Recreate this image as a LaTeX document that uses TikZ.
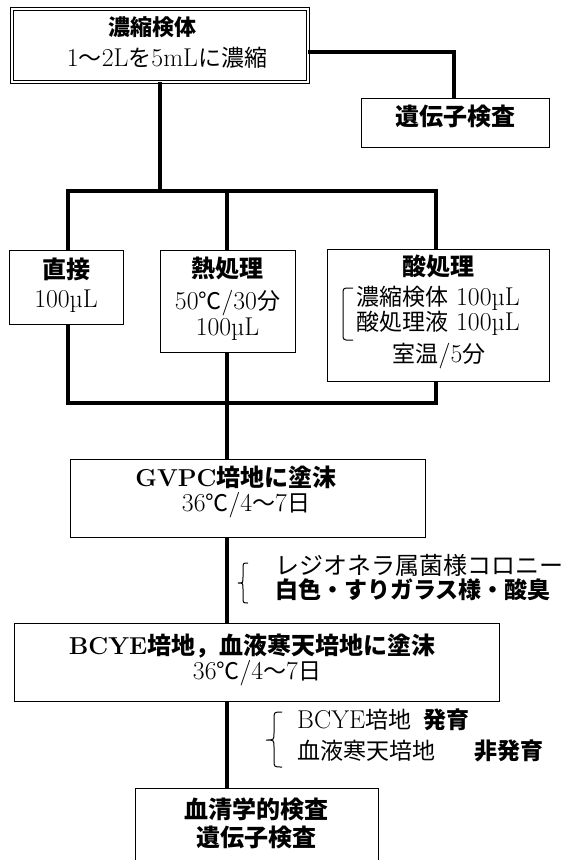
\documentclass[tikz,border=0pt]{standalone}
\usepackage{fontspec}
\setmainfont{Latin Modern Roman}[Scale=1.12, BoldFeatures={Scale=1.02}]
\newfontfamily\cjk{Noto Sans CJK JP}
\newcommand\J[1]{{\cjk #1}}
\tikzset{
  box/.style={draw, fill=white, line width=1.3pt, rectangle, inner sep=0pt, anchor=north west},
  topbox/.style={draw, fill=white, double, line width=0.8pt, double distance=1.6pt, rectangle, inner sep=0pt, anchor=north west},
  conn/.style={line width=4.2pt},
  brk/.style={line width=1pt},
  txt/.style={inner sep=0pt, text height=0.85em, text depth=0.1em, font=\fontsize{23}{28}\selectfont},
  hd/.style={inner sep=0pt, text height=0.85em, text depth=0.1em, font=\fontsize{24}{28}\selectfont\bfseries},
}
\begin{document}
\begin{tikzpicture}[x=1pt,y=-1pt]
\useasboundingbox[fill=white] (0,0) rectangle (571,860);
\clip (0,0) rectangle (571,860);
% junction coordinates
\coordinate (g1) at (454,52);
\coordinate (jT) at (160,191);
\coordinate (jL) at (68,191);
\coordinate (jM) at (227,191);
\coordinate (jR) at (436,191);
\coordinate (bL) at (68,403);
\coordinate (bM) at (227,403);
\coordinate (bR) at (436,403);
% boxes
\node[topbox, minimum width=296pt, minimum height=73pt] (top) at (11.5,8.5) {};
\node[box, minimum width=188pt, minimum height=49pt] (gene) at (361,98) {};
\node[box, minimum width=114pt, minimum height=74pt] (direct) at (9,250) {};
\node[box, minimum width=135pt, minimum height=102pt] (heat) at (160,250) {};
\node[box, minimum width=222pt, minimum height=132pt] (acid) at (327,249) {};
\node[box, minimum width=355pt, minimum height=78pt] (gvpc) at (70,459) {};
\node[box, minimum width=485pt, minimum height=78pt] (bcye) at (14,623) {};
\node[box, minimum width=243pt, minimum height=95pt] (final) at (135,788) {};
% connectors
\draw[conn] (top.east |- g1) -- (g1) -- (gene.north -| g1);
\draw[conn] (top.south -| jT) -- (jT);
\draw[conn] (direct.north -| jL) -- (jL) -- (jR) -- (acid.north -| jR);
\draw[conn] (jM) -- (heat.north -| jM);
\draw[conn] (direct.south -| bL) -- (bL) -- (bR) -- (acid.south -| bR);
\draw[conn] (heat.south -| bM) -- (bM) -- (gvpc.north -| bM);
\draw[conn] (gvpc.south -| bM) -- (bcye.north -| bM);
\draw[conn] (bcye.south -| bM) -- (final.north -| bM);
% texts
\node[hd, font=\fontsize{22}{26}\selectfont\bfseries] (topT) at (152,31) {\J{濃縮検体}};
\node[txt] (topS) at (167,62) {1\J{〜}2L\J{を}5mL\J{に濃縮}};
\node[hd] (geneT) at (455,121) {\J{遺伝子検査}};
\node[hd] (directT) at (66,274) {\J{直接}};
\node[txt] (directS) at (66,303) {100µL};
\node[hd] (heatT) at (227.5,273.5) {\J{熱処理}};
\node[txt] (heatS) at (227.5,305) {50\J{℃}/30\J{分}};
\node[txt] (heatV) at (227.5,331) {100µL};
\node[hd] (acidT) at (438,271.5) {\J{酸処理}};
\node[txt] (acidA) at (438,301) {\J{濃縮検体} 100µL};
\node[txt] (acidB) at (438,326) {\J{酸処理液} 100µL};
\node[txt] (acidC) at (439,358) {\J{室温}/5\J{分}};
\node[hd] (gvpcT) at (236,482) {GVPC\J{培地に塗沫}};
\node[txt] (gvpcS) at (246,507) {36\J{℃}/4\J{〜}7\J{日}};
\node[hd] (bcyeT) at (252,650) {BCYE\J{培地，血液寒天培地に塗沫}};
\node[txt] (bcyeS) at (257,675) {36\J{℃}/4\J{〜}7\J{日}};
\node[hd] (finalA) at (256,814) {\J{血清学的検査}};
\node[hd] (finalB) at (256,842) {\J{遺伝子検査}};
% notes
\node[txt, anchor=west, font=\fontsize{24}{28}\selectfont] (n1a) at (275,570) {\J{レジオネラ属菌様コロニー}};
\node[hd, anchor=west, font=\fontsize{23}{28}\selectfont\bfseries] (n1b) at (275,594) {\J{白色・すりガラス様・酸臭}};
\node[txt, anchor=west] (n2a) at (297,724) {BCYE\J{培地}};
\node[hd, anchor=west, font=\fontsize{23}{28}\selectfont\bfseries] (n2b) at (423,724) {\J{発育}};
\node[txt, anchor=west] (n2c) at (297,755) {\J{血液寒天培地}};
\node[hd, anchor=west, font=\fontsize{23}{28}\selectfont\bfseries] (n2d) at (474,755) {\J{非発育}};
% brackets
\draw[brk, rounded corners=3pt] (353,288) -- (343,288) -- (343,340) -- (353,340);
\draw[brk] (248,563) .. controls (243,563) .. (243,569) -- (243,577) .. controls (243,583) .. (238,583) .. controls (243,583) .. (243,589) -- (243,597) .. controls (243,603) .. (248,603);
\draw[brk] (282,712) .. controls (274,712) .. (274,719) -- (274,733) .. controls (274,740) .. (266,740) .. controls (274,740) .. (274,747) -- (274,760) .. controls (274,767) .. (282,767);
\end{tikzpicture}
\end{document}
